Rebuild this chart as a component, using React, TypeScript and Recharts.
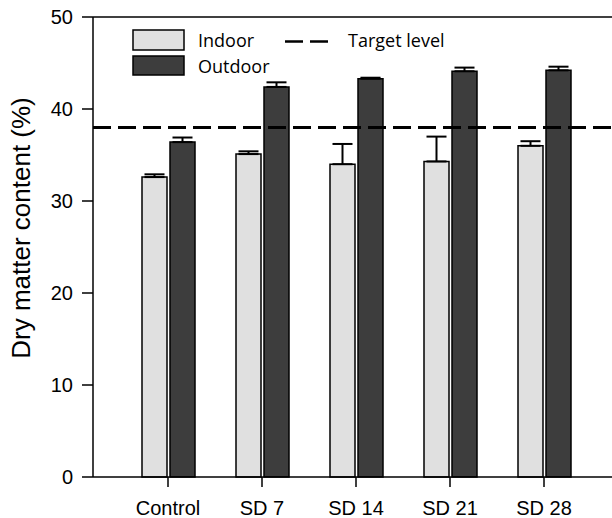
import React from 'react';
import {
  BarChart,
  Bar,
  XAxis,
  YAxis,
  ErrorBar,
  ReferenceLine,
  Label
} from 'recharts';

const categories = ['Control', 'SD 7', 'SD 14', 'SD 21', 'SD 28'];
const indoor = [32.6, 35.1, 34.0, 34.3, 36.0];
const indoorErr = [0.3, 0.3, 2.2, 2.7, 0.5];
const outdoor = [36.4, 42.4, 43.3, 44.1, 44.2];
const outdoorErr = [0.5, 0.5, 0.1, 0.4, 0.4];
const yTicks = [0, 10, 20, 30, 40, 50];
const targetLevel = 38;

const data = categories.map((name, i) => ({
  name,
  indoor: indoor[i],
  indoorErr: [0, indoorErr[i]],
  outdoor: outdoor[i],
  outdoorErr: [0, outdoorErr[i]]
}));

const axisFont = '"Liberation Sans", Arial, sans-serif';
const legendFont = '"Open Sans", sans-serif';

// legend drawn by hand, sits over the plot like in the original figure
function LegendBox() {
  return (
    <svg width={340} height={56} style={{ display: 'block' }}>
      <rect x={3} y={2} width={51} height={20} fill="#e0e0e0" stroke="#000" strokeWidth={1.5} />
      <rect x={3} y={28} width={51} height={19} fill="#3d3d3d" stroke="#000" strokeWidth={1.5} />
      <text x={68} y={19} fontFamily={legendFont} fontSize={18} fill="#000">Indoor</text>
      <text x={68} y={45} fontFamily={legendFont} fontSize={18} fill="#000">Outdoor</text>
      <line x1={155} y1={13.5} x2={198} y2={13.5} stroke="#000" strokeWidth={2.5} strokeDasharray="18 7" />
      <text x={218} y={19} fontFamily={legendFont} fontSize={18} fill="#000">Target level</text>
    </svg>
  );
}

export default function App() {
  return (
    <div
      style={{
        position: 'absolute',
        left: 0,
        top: 0,
        width: 612,
        height: 518,
        overflow: 'hidden',
        background: '#fff'
      }}
    >
      <BarChart
        width={640}
        height={518}
        data={data}
        margin={{ top: 17, right: 21, left: 8, bottom: 0 }}
        barSize={25}
        barGap={3}
      >
        <XAxis
          dataKey="name"
          height={41}
          padding={{ left: 28, right: 28 }}
          stroke="#000"
          strokeWidth={1.5}
          tickSize={10}
          tickMargin={14}
          tick={{ fill: '#000', fontSize: 20, fontFamily: axisFont }}
        />
        <YAxis
          domain={[0, 50]}
          ticks={yTicks}
          width={85}
          stroke="#000"
          strokeWidth={1.5}
          tickSize={11}
          tickMargin={9}
          tick={{ fill: '#000', fontSize: 20, fontFamily: axisFont }}
        >
          <Label
            content={() => (
              <text
                x={30}
                y={228}
                transform="rotate(-90, 30, 228)"
                textAnchor="middle"
                fontFamily={axisFont}
                fontSize={26}
                fill="#000"
              >
                Dry matter content (%)
              </text>
            )}
          />
        </YAxis>
        <ReferenceLine y={50} stroke="#000" strokeWidth={1.5} />
        <Bar dataKey="indoor" fill="#e0e0e0" stroke="#000" strokeWidth={1.5} isAnimationActive={false}>
          <ErrorBar dataKey="indoorErr" width={10} stroke="#000" strokeWidth={2} direction="y" />
        </Bar>
        <Bar dataKey="outdoor" fill="#3d3d3d" stroke="#000" strokeWidth={1.5} isAnimationActive={false}>
          <ErrorBar dataKey="outdoorErr" width={10} stroke="#000" strokeWidth={2} direction="y" />
        </Bar>
        <ReferenceLine y={targetLevel} stroke="#000" strokeWidth={3} strokeDasharray="18 7" />
      </BarChart>
      <div style={{ position: 'absolute', left: 130, top: 28 }}>
        <LegendBox />
      </div>
    </div>
  );
}
